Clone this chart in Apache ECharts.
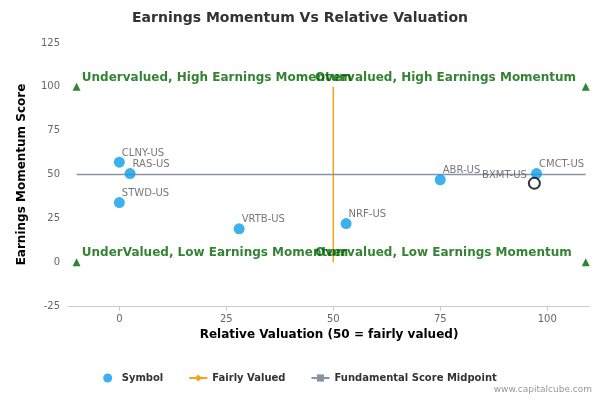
<!DOCTYPE html><html><head><meta charset="utf-8"><script src="https://cdn.jsdelivr.net/npm/echarts@6/dist/echarts.min.js"></script></head><body style="margin:0"><div id="c" style="width:600px;height:400px"></div><script>
const symbols=['CLNY-US','RAS-US','STWD-US','VRTB-US','NRF-US','ABR-US','CMCT-US'];
const valuation=[0,2.5,0,28,53,75,97.5];
const momentum=[57,50.5,34,19,22,47,50.5];
const highlight={name:'BXMT-US',x:97,y:45};
const xTicks=[0,25,50,75,100];
const quadrantTexts=['Undervalued, High Earnings Momentum','Overvalued, High Earnings Momentum','UnderValued, Low Earnings Momentum','Overvalued, Low Earnings Momentum'];
const quadX=[-9,45.5,-9,45.5], quadY=[100,100,0,0];
const cornerX=[-10,109,-10,109], cornerY=[100,100,0,0];
const c=echarts.init(document.getElementById('c'));
const font='DejaVu Sans';
c.setOption({textStyle:{fontFamily:font},animation:false,
title:{text:'Earnings Momentum Vs Relative Valuation',left:'center',top:6,textStyle:{fontSize:14,fontWeight:'bold',color:'#333',fontFamily:font}},
grid:{left:68,right:10,top:43,bottom:94},
xAxis:{type:'value',min:-12,max:110,name:'Relative Valuation (50 = fairly valued)',nameLocation:'middle',nameGap:22,nameTextStyle:{fontWeight:'bold',fontSize:12,color:'#000'},
 axisLine:{onZero:false,lineStyle:{color:'#c0d0e0'}},splitLine:{show:false},axisTick:{show:true,customValues:xTicks,lineStyle:{color:'#c0d0e0'}},axisLabel:{customValues:xTicks,color:'#666',fontSize:10}},
yAxis:{type:'value',min:-25,max:125,interval:25,name:'Earnings Momentum Score',nameLocation:'middle',nameGap:40,nameTextStyle:{fontWeight:'bold',fontSize:12,color:'#000'},
 axisLine:{show:false,onZero:false},axisTick:{show:false},splitLine:{show:false},axisLabel:{color:'#666',fontSize:10}},
legend:{bottom:12,left:'center',itemGap:25,itemWidth:18,itemHeight:9,textStyle:{fontSize:10,fontWeight:'bold',color:'#333'},data:['Symbol','Fairly Valued','Fundamental Score Midpoint']},
graphic:[{type:'text',right:8,bottom:6,style:{text:'www.capitalcube.com',fill:'#999',fontSize:9,fontFamily:font}}],
series:[
{name:'Symbol',type:'scatter',symbolSize:11,itemStyle:{color:'#0b9ee8'},z:5,
 data:symbols.map((s,i)=>({value:[valuation[i],momentum[i]],name:s})),
 label:{show:true,formatter:'{b}',position:'right',offset:[-8,-9],fontSize:10,color:'#555'}},
{name:'Highlight',type:'scatter',symbolSize:11,z:6,itemStyle:{color:'#fff',borderColor:'#000',borderWidth:2},
 data:[{value:[highlight.x,highlight.y],name:highlight.name}],label:{show:true,formatter:'{b}',position:'left',offset:[4,-8],fontSize:10,color:'#555'}},
{name:'Fairly Valued',type:'line',symbol:'diamond',showSymbol:false,itemStyle:{color:'#f7a21b'},lineStyle:{color:'#f7a21b',width:1.5},data:[[50,0],[50,100]]},
{name:'Fundamental Score Midpoint',type:'line',symbol:'rect',showSymbol:false,itemStyle:{color:'#8a93a5'},lineStyle:{color:'#8a93a5',width:1.5},data:[[-10,50],[109,50]]},
{name:'corners',type:'scatter',symbol:'triangle',symbolSize:8,itemStyle:{color:'#006400'},data:cornerX.map((x,i)=>[x,cornerY[i]])},
{name:'quad',type:'scatter',symbolSize:0,z:7,data:quadrantTexts.map((t,i)=>({value:[quadX[i],quadY[i]],name:t})),
 label:{show:true,formatter:'{b}',position:'right',offset:[-4,-9],fontSize:12,fontWeight:'bold',color:'#006400'}}
]});
</script></body></html>
